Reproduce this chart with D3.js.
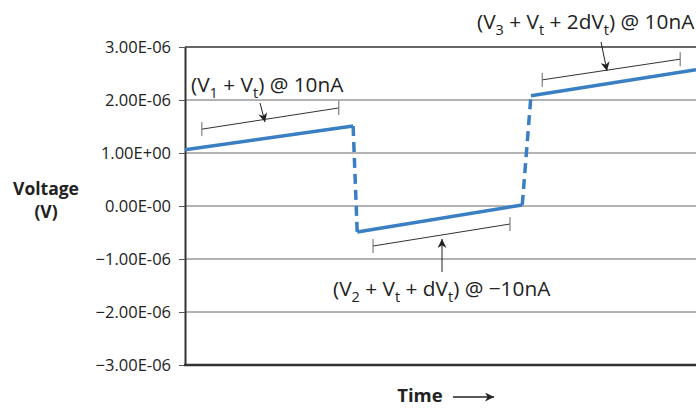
<!DOCTYPE html>
<html>
<head>
<meta charset="utf-8">
<script src="https://cdn.jsdelivr.net/npm/d3@7"></script>
<style>
  body { margin: 0; background: #fff; }
  svg { display: block; font-family: "Open Sans", sans-serif; }
</style>
</head>
<body>
<svg width="696" height="408"></svg>
<script>
// waveform points (time in arbitrary units, voltage in V)
const times    = [0, 3.29, 3.37, 6.6, 6.77, 10];
const voltages = [1.06e-6, 1.51e-6, -0.49e-6, 0.02e-6, 2.08e-6, 2.57e-6];

// y ticks
const tickValues = [3e-6, 2e-6, 1e-6, 0, -1e-6, -2e-6, -3e-6];
const tickLabels = ["3.00E-06", "2.00E-06", "1.00E+00", "0.00E-00", "\u22121.00E-06", "\u22122.00E-06", "\u22123.00E-06"];

// measurement brackets: [t0, v0, t1, v1]
const brackets = [
  [0.33, 1.45e-6, 3.01, 1.85e-6],
  [3.68, -0.755e-6, 6.36, -0.34e-6],
  [6.99, 2.38e-6, 9.69, 2.77e-6]
];

const svgWidth = 696, svgHeight = 408;
const margin = {top: 47, left: 185, bottom: 43};

const svg = d3.select("svg");

const x = d3.scaleLinear().domain([0, 10]).range([margin.left, svgWidth]);
const y = d3.scaleLinear().domain([-3e-6, 3e-6]).range([svgHeight - margin.bottom, margin.top]);

// gridlines
svg.append("g")
  .selectAll("line")
  .data(tickValues.slice(1, -1))
  .enter().append("line")
  .attr("x1", margin.left).attr("x2", svgWidth)
  .attr("y1", d => y(d)).attr("y2", d => y(d))
  .attr("stroke", "#666").attr("stroke-width", 1);

// top border
svg.append("line")
  .attr("x1", margin.left).attr("x2", svgWidth)
  .attr("y1", y(3e-6)).attr("y2", y(3e-6))
  .attr("stroke", "#333").attr("stroke-width", 1.5);

// y axis
const yAxis = d3.axisLeft(y)
  .tickValues(tickValues)
  .tickFormat((d, i) => tickLabels[i])
  .tickSize(6).tickSizeOuter(0).tickPadding(8);

const gy = svg.append("g")
  .attr("transform", "translate(" + margin.left + ",0)")
  .call(yAxis);
gy.select(".domain").attr("stroke", "#333").attr("stroke-width", 2);
gy.selectAll(".tick line").attr("stroke", "#555");
gy.selectAll(".tick text")
  .attr("font-family", "Open Sans, sans-serif")
  .attr("font-size", 16.5).attr("fill", "#222");

// bottom axis line
svg.append("line")
  .attr("x1", margin.left - 1).attr("x2", svgWidth)
  .attr("y1", y(-3e-6)).attr("y2", y(-3e-6))
  .attr("stroke", "#333").attr("stroke-width", 2.5);

// waveform
const segs = d3.range(times.length - 1).map(i => ({
  x1: times[i], y1: voltages[i], x2: times[i + 1], y2: voltages[i + 1], dashed: i % 2 === 1
}));

svg.append("g")
  .selectAll("line")
  .data(segs)
  .enter().append("line")
  .attr("x1", d => x(d.x1)).attr("y1", d => y(d.y1))
  .attr("x2", d => x(d.x2)).attr("y2", d => y(d.y2))
  .attr("stroke", "#3a7fc3")
  .attr("stroke-width", 3.5)
  .attr("stroke-dasharray", d => d.dashed ? "10,6" : null);

// brackets
const bg = svg.append("g").attr("stroke", "#333").attr("stroke-width", 1);
brackets.forEach(b => {
  const x0 = x(b[0]), y0 = y(b[1]), x1 = x(b[2]), y1 = y(b[3]);
  bg.append("line").attr("x1", x0).attr("y1", y0).attr("x2", x1).attr("y2", y1);
  bg.append("line").attr("x1", x0).attr("y1", y0 - 7).attr("x2", x0).attr("y2", y0 + 7).attr("stroke", "#666");
  bg.append("line").attr("x1", x1).attr("y1", y1 - 7).attr("x2", x1).attr("y2", y1 + 7).attr("stroke", "#666");
});

// arrowhead
svg.append("defs").append("marker")
  .attr("id", "head").attr("viewBox", "0 0 10 10")
  .attr("refX", 10).attr("refY", 5)
  .attr("markerWidth", 9).attr("markerHeight", 9)
  .attr("markerUnits", "userSpaceOnUse")
  .attr("orient", "auto")
  .append("path").attr("d", "M0,0 L10,5 L0,10 L3,5 Z").attr("fill", "#222");

const arrows = [
  [260, 103, 265, 122],
  [442, 272, 442, 239],
  [601, 42, 607, 71]
];
svg.append("g").selectAll("line").data(arrows).enter().append("line")
  .attr("x1", d => d[0]).attr("y1", d => d[1])
  .attr("x2", d => d[2]).attr("y2", d => d[3])
  .attr("stroke", "#222").attr("stroke-width", 1)
  .attr("marker-end", "url(#head)");

// annotation labels: pieces [text, isSub]
const labels = [
  {x: 191, y: 92, parts: [["(V", 0], ["1", 1], [" + V", 0], ["t", 1], [") @ 10nA", 0]]},
  {x: 333, y: 296, parts: [["(V", 0], ["2", 1], [" + V", 0], ["t", 1], [" + dV", 0], ["t", 1], [") @ \u221210nA", 0]]},
  {x: 477, y: 29, parts: [["(V", 0], ["3", 1], [" + V", 0], ["t", 1], [" + 2dV", 0], ["t", 1], [") @ 10nA", 0]]}
];
labels.forEach(l => {
  const t = svg.append("text").attr("x", l.x).attr("y", l.y)
    .attr("font-size", 20.8).attr("fill", "#222");
  let prevSub = 0;
  l.parts.forEach(p => {
    const dy = p[1] && !prevSub ? 6 : (!p[1] && prevSub ? -6 : 0);
    t.append("tspan").attr("dy", dy)
      .attr("font-size", p[1] ? 14.5 : 20.8)
      .text(p[0]);
    prevSub = p[1];
  });
});

// axis titles
const yt = svg.append("text")
  .attr("text-anchor", "middle")
  .attr("font-weight", "bold").attr("font-size", 17.5).attr("fill", "#222");
yt.append("tspan").attr("x", 46).attr("y", 195).text("Voltage");
yt.append("tspan").attr("x", 46).attr("y", 218).text("(V)");

svg.append("text")
  .attr("x", 420).attr("y", 402)
  .attr("text-anchor", "middle")
  .attr("font-weight", "bold").attr("font-size", 18.5).attr("fill", "#222")
  .text("Time");

svg.append("line")
  .attr("x1", 453).attr("y1", 397).attr("x2", 494).attr("y2", 397)
  .attr("stroke", "#222").attr("stroke-width", 1.5)
  .attr("marker-end", "url(#head)");
</script>
</body>
</html>
